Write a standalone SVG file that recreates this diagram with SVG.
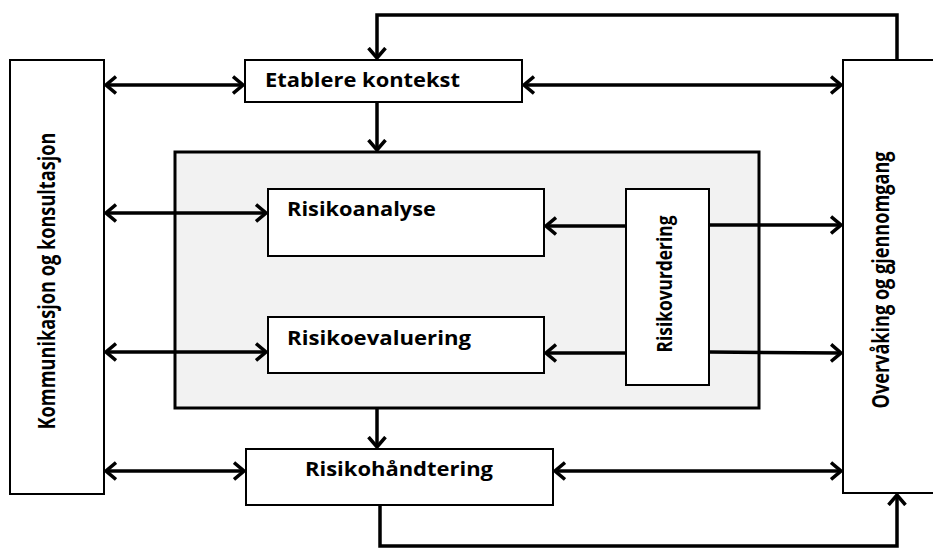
<svg xmlns="http://www.w3.org/2000/svg" width="933" height="548" viewBox="0 0 933 548">
  <style>
    .box { fill: #ffffff; stroke: #000000; stroke-width: 2; }
    .panel { fill: #f2f2f2; stroke: #000000; stroke-width: 3; }
    .lbl { font-family: "Open Sans", "Liberation Sans", sans-serif; font-weight: bold; font-size: 20px; fill: #000000; }
    .vlbl { font-size: 23.5px; }
    .wire { fill: none; stroke: #000000; stroke-width: 3.5; }
  </style>
  <defs>
    <marker id="chev" viewBox="0 0 12 20" refX="11" refY="10" markerWidth="12" markerHeight="20" markerUnits="userSpaceOnUse" orient="auto-start-reverse">
      <path d="M1,1.5 L11,10 L1,18.5" fill="none" stroke="#000000" stroke-width="3.5" stroke-linejoin="miter"/>
    </marker>
  </defs>

  <!-- side columns -->
  <g id="kommunikasjon">
    <rect class="box" x="10" y="60" width="94" height="434"/>
    <text class="lbl vlbl" transform="translate(55,281) rotate(-90)" text-anchor="middle" textLength="297" lengthAdjust="spacingAndGlyphs">Kommunikasjon og konsultasjon</text>
  </g>
  <g id="overvaking">
    <rect class="box" x="843" y="60" width="96" height="433"/>
    <text class="lbl vlbl" transform="translate(889,280) rotate(-90)" text-anchor="middle" textLength="257" lengthAdjust="spacingAndGlyphs">Overvåking og gjennomgang</text>
  </g>

  <!-- main process -->
  <g id="etablere">
    <rect class="box" x="245" y="60" width="277" height="42"/>
    <text class="lbl" x="265" y="87" textLength="195" lengthAdjust="spacingAndGlyphs">Etablere kontekst</text>
  </g>
  <g id="vurdering-panel">
    <rect class="panel" x="175" y="152" width="584" height="256"/>
  </g>
  <g id="risikoanalyse">
    <rect class="box" x="268" y="189" width="276" height="67"/>
    <text class="lbl" x="287" y="216" textLength="149" lengthAdjust="spacingAndGlyphs">Risikoanalyse</text>
  </g>
  <g id="risikoevaluering">
    <rect class="box" x="268" y="317" width="276" height="56"/>
    <text class="lbl" x="287" y="345" textLength="184" lengthAdjust="spacingAndGlyphs">Risikoevaluering</text>
  </g>
  <g id="risikovurdering">
    <rect class="box" x="626" y="189" width="83" height="196"/>
    <text class="lbl vlbl" transform="translate(672,284) rotate(-90)" text-anchor="middle" textLength="137" lengthAdjust="spacingAndGlyphs" style="font-size:22px">Risikovurdering</text>
  </g>
  <g id="risikohandtering">
    <rect class="box" x="246" y="449" width="307" height="56"/>
    <text class="lbl" x="399" y="476" text-anchor="middle" textLength="188" lengthAdjust="spacingAndGlyphs">Risikohåndtering</text>
  </g>

  <!-- connectors -->
  <g id="connectors">
    <line class="wire" x1="106" y1="85" x2="243" y2="85" marker-start="url(#chev)" marker-end="url(#chev)"/>
    <line class="wire" x1="524" y1="85" x2="841" y2="85" marker-start="url(#chev)" marker-end="url(#chev)"/>
    <polyline class="wire" points="897,60 897,15 377,15 377,58" marker-end="url(#chev)"/>
    <line class="wire" x1="377" y1="102" x2="377" y2="150" marker-end="url(#chev)"/>

    <line class="wire" x1="106" y1="213" x2="266" y2="213" marker-start="url(#chev)" marker-end="url(#chev)"/>
    <line class="wire" x1="626" y1="226" x2="546" y2="226" marker-end="url(#chev)"/>
    <line class="wire" x1="709" y1="225" x2="841" y2="225" marker-end="url(#chev)"/>

    <line class="wire" x1="106" y1="352" x2="266" y2="352" marker-start="url(#chev)" marker-end="url(#chev)"/>
    <line class="wire" x1="626" y1="353" x2="546" y2="353" marker-end="url(#chev)"/>
    <line class="wire" x1="709" y1="352" x2="841" y2="353" marker-end="url(#chev)"/>

    <line class="wire" x1="377" y1="408" x2="377" y2="447" marker-end="url(#chev)"/>
    <line class="wire" x1="106" y1="471" x2="244" y2="471" marker-start="url(#chev)" marker-end="url(#chev)"/>
    <line class="wire" x1="555" y1="471" x2="841" y2="471" marker-start="url(#chev)" marker-end="url(#chev)"/>
    <polyline class="wire" points="380,505 380,546 897,546 897,495" marker-end="url(#chev)"/>
  </g>
</svg>
